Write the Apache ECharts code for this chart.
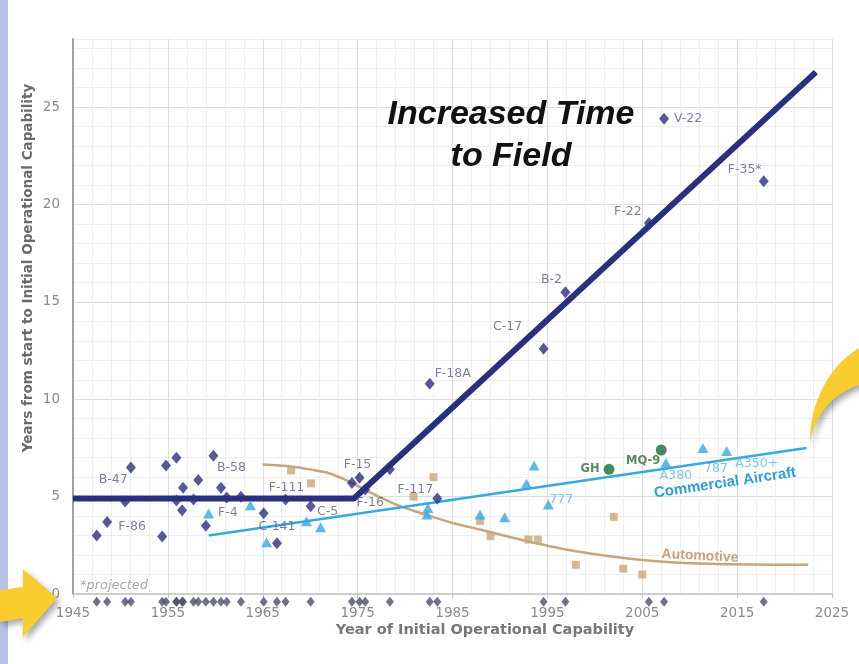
<!DOCTYPE html>
<html>
<head>
<meta charset="utf-8">
<script src="https://cdn.jsdelivr.net/npm/echarts@6/dist/echarts.min.js"></script>
<style>
  html, body { margin: 0; padding: 0; background: #ffffff; }
  #chart { width: 859px; height: 664px; }
</style>
</head>
<body>
<div id="chart"></div>
<script>
// ---------- Data ----------
// Military aircraft (navy diamonds)
const milYear  = [1947.5, 1948.6, 1950.5, 1951.1, 1954.4, 1954.8, 1955.9, 1955.9, 1956.5, 1956.6, 1957.7, 1958.2, 1959.0, 1959.8, 1960.6, 1961.2, 1962.7, 1965.1, 1966.5, 1967.4, 1970.05, 1974.4, 1975.2, 1975.8, 1978.4, 1982.6, 1983.4, 1994.6, 1996.9, 2005.7, 2007.3, 2017.8];
const milValue = [3.0, 3.7, 4.75, 6.5, 2.95, 6.6, 7.0, 4.8, 4.3, 5.45, 4.85, 5.85, 3.5, 7.1, 5.45, 4.95, 5.0, 4.15, 2.6, 4.85, 4.5, 5.7, 5.97, 5.37, 6.4, 10.8, 4.9, 12.6, 15.5, 19.05, 24.4, 21.2];
const milName  = ['', 'F-86', 'B-47', '', '', '', '', '', '', '', '', '', 'F-4', 'B-58', '', '', '', '', 'C-141', 'F-111', 'C-5', '', 'F-15', 'F-16', '', 'F-18A', 'F-117', 'C-17', 'B-2', 'F-22', 'V-22', 'F-35*'];

// Commercial aircraft (light blue triangles)
const comYear  = [1959.3, 1963.7, 1965.4, 1969.6, 1971.1, 1982.3, 1982.4, 1987.9, 1990.5, 1992.8, 1993.6, 1995.1, 2007.5, 2011.4, 2013.9];
const comValue = [4.13, 4.56, 2.66, 3.74, 3.43, 4.08, 4.42, 4.08, 3.94, 5.68, 6.6, 4.6, 6.74, 7.5, 7.34];
const comName  = ['', '', '', '', '', '', '', '', '', '', '', '777', 'A380', '787', 'A350+'];

// Unmanned systems (green circles)
const uavYear  = [2001.5, 2007.0];
const uavValue = [6.4, 7.39];
const uavName  = ['GH', 'MQ-9'];

// Automotive (tan squares)
const autoYear  = [1968, 1970.1, 1980.9, 1983, 1987.9, 1989, 1993, 1994, 1998, 2002, 2003, 2005];
const autoValue = [6.35, 5.68, 5.0, 6.0, 3.75, 2.97, 2.8, 2.8, 1.5, 3.96, 1.3, 1.0];

// Trend lines
const milTrendYear  = [1945, 1974.6, 2023.3];
const milTrendValue = [4.9, 4.9, 26.8];
const comTrendYear  = [1959.3, 2022.3];
const comTrendValue = [3.0, 7.5];
const autoTrendYear  = [1965, 1968, 1970, 1972, 1974, 1976, 1979, 1982, 1985, 1988, 1993, 1998, 2005, 2012, 2022.5];
const autoTrendValue = [6.65, 6.55, 6.4, 6.2, 5.8, 5.3, 4.6, 4.1, 3.65, 3.3, 2.7, 2.2, 1.75, 1.55, 1.5];

// Axis ticks
const xTicks = { min: 1945, max: 2025, step: 10 };
const yTicks = { min: 0, max: 28.5, step: 5 };

// ---------- Styling / label placement (not data) ----------
const NAVY = '#2a2f80';
const SKY = '#36a9de';
const TAN = '#c9a57d';
const GREEN = '#1c6a36';
const RUG_LEVEL = -0.4;

const labelOffset = {
  'F-86': [25, 5], 'B-47': [-12, -22], 'B-58': [18, 12], 'F-4': [22, -13],
  'C-141': [0, -17], 'F-111': [1, -12], 'C-5': [17, 5], 'F-15': [-2, -13],
  'F-16': [5, 13], 'F-117': [-22, -9], 'F-18A': [23, -10], 'C-17': [-36, -22],
  'B-2': [-14, -12], 'F-22': [-21, -11], 'V-22': [24, 0], 'F-35*': [-19, -11],
  '777': [13, -5], 'A380': [10, 13], '787': [13, 21], 'A350+': [30, 13],
  'GH': [-19, 0], 'MQ-9': [-18, 11]
};

function pts(xs, ys, names, labelStyle) {
  return xs.map((x, i) => {
    const item = { value: [x, ys[i]] };
    const n = names ? names[i] : '';
    if (n) {
      item.label = Object.assign({
        show: true, formatter: n, position: 'inside',
        offset: labelOffset[n] || [0, 0]
      }, labelStyle);
    }
    return item;
  });
}
function line(xs, ys) { return xs.map((x, i) => [x, ys[i]]); }

// sample a cubic bezier (decoration shape helper)
function cubic(p0, p1, p2, p3, n) {
  const out = [];
  for (let k = 0; k <= n; k++) {
    const t = k / n, u = 1 - t;
    out.push([
      u*u*u*p0[0] + 3*u*u*t*p1[0] + 3*u*t*t*p2[0] + t*t*t*p3[0],
      u*u*u*p0[1] + 3*u*u*t*p1[1] + 3*u*t*t*p2[1] + t*t*t*p3[1]
    ]);
  }
  return out;
}

const chart = echarts.init(document.getElementById('chart'), null, { renderer: 'canvas' });

const labelFont = { fontFamily: 'DejaVu Sans', fontSize: 12.5 };

const option = {
  backgroundColor: '#ffffff',
  animation: false,
  grid: { left: 73, right: 27, top: 39, bottom: 70 },
  xAxis: {
    type: 'value', min: xTicks.min, max: xTicks.max, interval: xTicks.step,
    axisLine: { show: true, onZero: false, lineStyle: { color: '#c4c4c4', width: 1.5 } },
    axisTick: { show: true, length: 4, lineStyle: { color: '#c4c4c4' } },
    axisLabel: { color: '#8a8a8a', fontFamily: 'DejaVu Sans', fontSize: 13.5, margin: 12, formatter: v => String(v) },
    splitLine: { show: true, lineStyle: { color: '#dcdcdc', width: 1 } },
    minorTick: { show: false, splitNumber: 5 },
    minorSplitLine: { show: true, lineStyle: { color: '#efefef', width: 1 } }
  },
  yAxis: {
    type: 'value', min: yTicks.min, max: yTicks.max, interval: 1,
    axisLine: { show: true, lineStyle: { color: '#a0a0a0', width: 2 } },
    axisTick: { show: false },
    axisLabel: {
      color: '#8a8a8a', fontFamily: 'DejaVu Sans', fontSize: 13.5, margin: 13,
      formatter: v => (v % yTicks.step === 0 ? String(v) : '')
    },
    splitLine: { show: true, lineStyle: { color: ['#dcdcdc', '#efefef', '#efefef', '#efefef', '#efefef'], width: 1 } }
  },
  series: [
    {
      type: 'line', name: 'Automotive trend', data: line(autoTrendYear, autoTrendValue),
      smooth: 0.3, symbol: 'none', lineStyle: { color: TAN, width: 2.5 }, z: 2, silent: true
    },
    {
      type: 'line', name: 'Commercial trend', data: line(comTrendYear, comTrendValue),
      symbol: 'none', lineStyle: { color: SKY, width: 2.5 }, z: 2, silent: true
    },
    {
      type: 'line', name: 'Military trend', data: line(milTrendYear, milTrendValue),
      symbol: 'none', lineStyle: { color: NAVY, width: 6 }, z: 3, silent: true
    },
    {
      type: 'scatter', name: 'Automotive', symbol: 'rect', symbolSize: 8,
      itemStyle: { color: TAN }, data: pts(autoYear, autoValue, null), z: 4
    },
    {
      type: 'scatter', name: 'Commercial', symbol: 'triangle', symbolSize: [11, 10],
      itemStyle: { color: SKY },
      data: pts(comYear, comValue, comName, Object.assign({ color: '#5cb9e2' }, labelFont)), z: 4
    },
    {
      type: 'scatter', name: 'UAV', symbol: 'circle', symbolSize: 11,
      itemStyle: { color: GREEN },
      data: pts(uavYear, uavValue, uavName, { color: '#2e6e3e', fontFamily: 'DejaVu Sans', fontSize: 11.5, fontWeight: 'bold' }), z: 5
    },
    {
      type: 'scatter', name: 'Military', symbol: 'diamond', symbolSize: [10, 12],
      itemStyle: { color: NAVY },
      data: pts(milYear, milValue, milName, Object.assign({ color: '#5a5f8c' }, labelFont)), z: 6
    },
    {
      type: 'scatter', name: 'Military (rug)', symbol: 'diamond', symbolSize: [8, 10],
      itemStyle: { color: '#4a4e6c' }, clip: false, silent: true,
      data: milYear.map(x => [x, RUG_LEVEL]), z: 6
    }
  ]
};

chart.setOption(option);

// ---------- Annotations & decorations ----------
const crescent = cubic([810, 443], [810, 400], [830, 366], [859, 348], 24)
  .concat(cubic([859, 385], [835, 393], [815, 412], [810, 443], 24));

chart.setOption({
  graphic: [
    { type: 'rect', shape: { x: 0, y: 0, width: 8, height: 664 }, style: { fill: '#b8c0ea' }, z: 100 },
    {
      type: 'text', x: 28, y: 268, rotation: Math.PI / 2,
      style: { text: 'Years from start to Initial Operational Capability', font: 'bold 13.5px "DejaVu Sans"', fill: '#6a6a6a', align: 'center', verticalAlign: 'middle' }
    },
    {
      type: 'text', x: 485, y: 630,
      style: { text: 'Year of Initial Operational Capability', font: 'bold 14.5px "DejaVu Sans"', fill: '#777777', align: 'center', verticalAlign: 'middle' }
    },
    {
      type: 'text', x: 511, y: 136,
      style: { text: 'Increased Time\nto Field', font: 'italic bold 34px "Liberation Sans"', fill: '#111111', align: 'center', verticalAlign: 'middle', lineHeight: 42 }
    },
    {
      type: 'text', x: 725, y: 483, rotation: 0.147,
      style: { text: 'Commercial Aircraft', font: 'bold 15px "Liberation Sans"', fill: '#2f9fd8', align: 'center', verticalAlign: 'middle' }
    },
    {
      type: 'text', x: 700, y: 556, rotation: -0.05,
      style: { text: 'Automotive', font: 'bold 14px "Liberation Sans"', fill: '#c9a27b', align: 'center', verticalAlign: 'middle' }
    },
    {
      type: 'text', x: 114, y: 586,
      style: { text: '*projected', font: 'italic 13px "DejaVu Sans"', fill: '#a8a8a8', align: 'center', verticalAlign: 'middle' }
    },
    {
      type: 'polygon', z: 110,
      shape: { points: [[0, 590], [23, 587], [23, 569], [57, 598], [23, 637], [23, 618], [0, 622]] },
      style: { fill: '#f9cd2e', shadowBlur: 6, shadowColor: 'rgba(0,0,0,0.35)', shadowOffsetX: 3, shadowOffsetY: 4 }
    },
    {
      type: 'polygon', z: 110,
      shape: { points: crescent },
      style: { fill: '#f9cd2e', shadowBlur: 6, shadowColor: 'rgba(0,0,0,0.35)', shadowOffsetX: 3, shadowOffsetY: 4 }
    }
  ]
});
</script>
</body>
</html>
